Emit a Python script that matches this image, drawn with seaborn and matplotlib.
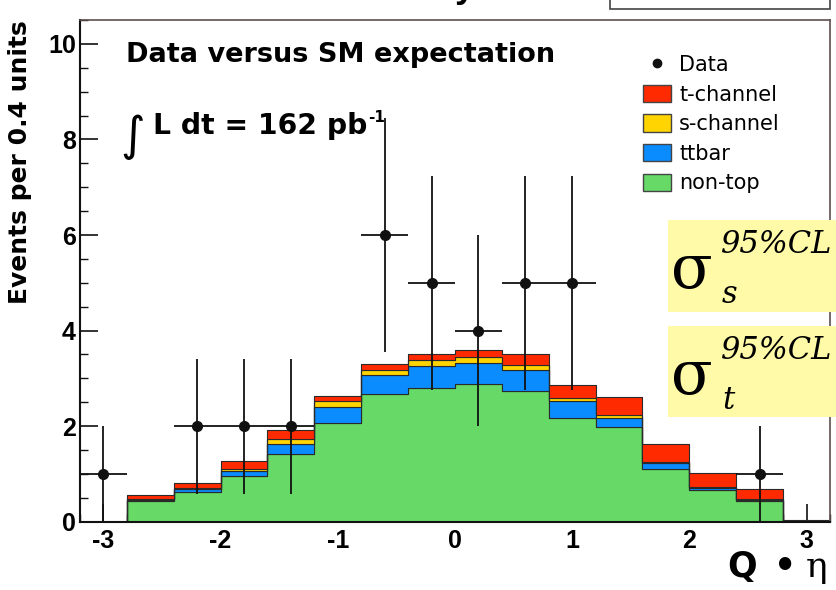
import numpy as np
import pandas as pd
import matplotlib
matplotlib.use("Agg")
import matplotlib.pyplot as plt
from matplotlib.patches import Patch, Rectangle
from matplotlib.lines import Line2D
import seaborn as sns

# ---------------- data ----------------
bin_centers = [-3.0, -2.6, -2.2, -1.8, -1.4, -1.0, -0.6, -0.2,
               0.2, 0.6, 1.0, 1.4, 1.8, 2.2, 2.6, 3.0]
non_top   = [0.00, 0.43, 0.62, 0.95, 1.41, 2.06, 2.68, 2.80,
             2.88, 2.74, 2.17, 1.98, 1.11, 0.66, 0.44, 0.00]
ttbar     = [0.00, 0.03, 0.06, 0.11, 0.22, 0.34, 0.39, 0.46,
             0.45, 0.44, 0.35, 0.19, 0.11, 0.04, 0.02, 0.00]
s_channel = [0.00, 0.02, 0.02, 0.05, 0.11, 0.12, 0.11, 0.12,
             0.12, 0.10, 0.07, 0.07, 0.03, 0.02, 0.01, 0.00]
t_channel = [0.00, 0.08, 0.11, 0.16, 0.17, 0.12, 0.12, 0.13,
             0.15, 0.23, 0.28, 0.38, 0.38, 0.29, 0.21, 0.03]

data_x   = [-3.0, -2.2, -1.8, -1.4, -0.6, -0.2, 0.2, 0.6, 1.0, 2.6]
data_y   = [1, 2, 2, 2, 6, 5, 4, 5, 5, 1]
data_err = [1.0, 1.41, 1.41, 1.41, 2.45, 2.24, 2.0, 2.24, 2.24, 1.0]
data_xerr = 0.2

processes = ["t-channel", "s-channel", "ttbar", "non-top"]
colors = {"t-channel": "#ff2a00", "s-channel": "#ffd400",
          "ttbar": "#0a8cff", "non-top": "#66d966"}
x_ticks = [-3, -2, -1, 0, 1, 2, 3]
y_ticks = [0, 2, 4, 6, 8, 10]

rows = []
for name, vals in zip(processes, [t_channel, s_channel, ttbar, non_top]):
    for c, v in zip(bin_centers, vals):
        rows.append({"x": c, "w": v, "process": name})
df = pd.DataFrame(rows)

# ---------------- figure ----------------
sns.set_theme(style="white")
plt.rcParams["font.family"] = ["Liberation Sans", "DejaVu Sans"]
plt.rcParams["text.color"] = "black"
plt.rcParams["axes.labelcolor"] = "black"
plt.rcParams["xtick.color"] = "black"
plt.rcParams["ytick.color"] = "black"
WIDE = ["DejaVu Sans"]
serif = ["DejaVu Serif", "Liberation Serif"]

W, H = 837, 590
fig = plt.figure(figsize=(W / 100, H / 100), dpi=100)
fig.patch.set_facecolor("white")

def fx(px):
    return px / W

def fy(py):
    return 1 - py / H

ax = fig.add_axes([fx(80), fy(521.7), fx(830) - fx(80), fy(20) - fy(521.7)])
ax.set_facecolor("white")

edges = [round(v, 2) for v in np.linspace(-3.2, 3.2, 17)]
sns.histplot(data=df, x="x", weights="w", hue="process", hue_order=processes,
             multiple="stack", bins=edges, element="step", palette=colors,
             alpha=1, edgecolor="#2a2a2a", linewidth=0.8, legend=False, ax=ax)

ax.errorbar(data_x, data_y, yerr=data_err, xerr=data_xerr, fmt="o",
            color="#111111", ecolor="#111111", elinewidth=1.3, capsize=0,
            markersize=7, zorder=10)

ax.set_xlim(-3.2, 3.2)
ax.set_ylim(0, 10.5)
ax.set_xticks(x_ticks)
ax.set_xticklabels([str(t) for t in x_ticks])
ax.set_yticks(y_ticks)
ax.set_yticklabels([str(t) for t in y_ticks])
ax.set_xticks(np.arange(-3.2, 3.21, 0.2), minor=True)
ax.set_yticks(np.arange(0, 10.51, 0.5), minor=True)
ax.tick_params(axis="both", which="major", direction="in", length=13, width=1.2,
               color="#111111", labelcolor="black", labelsize=18,
               left=True, bottom=True)
ax.tick_params(axis="both", which="minor", direction="in", length=6, width=1.0,
               color="#111111", left=True, bottom=True)
ax.tick_params(axis="x", which="major", pad=5)
ax.tick_params(axis="y", which="major", pad=3)
for lab in ax.get_xticklabels() + ax.get_yticklabels():
    lab.set_fontweight("bold")

ax.set_xlabel("")
ax.set_ylabel("Events per 0.4 units", fontsize=18, fontweight="bold", loc="top",
              family=WIDE, color="black")
ax.yaxis.set_label_coords((32 - 80) / 750, 1.0)

for side in ["left", "bottom"]:
    ax.spines[side].set_color("#111111")
    ax.spines[side].set_linewidth(1.5)
for side in ["top", "right"]:
    ax.spines[side].set_color("#5e4f4f")
    ax.spines[side].set_linewidth(1.2)

# texts inside the frame
fig.text(fx(126), fy(62), "Data versus SM expectation", fontsize=19.5,
         fontweight="bold", va="baseline", ha="left", family=WIDE)
fig.text(fx(120), fy(150), "\u222b", fontsize=34, va="baseline", ha="left",
         family=WIDE)
fig.text(fx(153), fy(134), "L dt = 162 pb", fontsize=20.3, fontweight="bold",
         va="baseline", ha="left", family=WIDE)
fig.text(fx(368), fy(122), "-1", fontsize=11, fontweight="bold",
         va="baseline", ha="left", family=WIDE)

# legend
handles = [Line2D([], [], marker="o", color="#111111", linestyle="none", markersize=6)]
handles += [Patch(facecolor=colors[p], edgecolor="#444444", linewidth=1.0)
            for p in processes]
labels = ["Data"] + processes
leg = fig.legend(handles, labels, loc="upper left",
                 bbox_to_anchor=(fx(643), fy(55)), frameon=False,
                 prop={"family": WIDE, "size": 15},
                 handlelength=1.35, handleheight=0.9, handletextpad=0.38,
                 labelspacing=0.46, borderaxespad=0, borderpad=0)

# yellow boxes on the right
for top, bot in [(220, 312), (326, 417)]:
    fig.patches.append(Rectangle((fx(668), fy(bot)), fx(900) - fx(668),
                                 fy(top) - fy(bot), transform=fig.transFigure,
                                 facecolor="#fffaa8", edgecolor="none", zorder=5))
for dy, sub in [(0, "s"), (106, "t")]:
    fig.text(fx(671), fy(288 + dy), "\u03c3", fontsize=44, family=serif,
             va="baseline", ha="left", zorder=6)
    fig.text(fx(721), fy(253 + dy), "95%CL", fontsize=22, family=serif,
             style="italic", va="baseline", ha="left", zorder=6)
    fig.text(fx(722), fy(303 + dy), sub, fontsize=22, family=serif,
             style="italic", va="baseline", ha="left", zorder=6)

# x axis title at bottom right
fig.text(fx(727), fy(577), "Q", fontsize=25, fontweight="bold",
         va="baseline", ha="left", family=WIDE)
fig.text(fx(774), fy(577), "\u2022", fontsize=25, fontweight="bold",
         va="baseline", ha="left", family=WIDE)
fig.text(fx(806), fy(577), "\u03b7", fontsize=26, family=serif,
         va="baseline", ha="left")

# fragments of the cut-off slide header
fig.patches.append(Rectangle((fx(610), fy(9)), fx(830) - fx(610), fy(-20) - fy(9),
                             transform=fig.transFigure, facecolor="white",
                             edgecolor="#444444", linewidth=1.2, zorder=5))
fig.text(fx(455), fy(-3), "y", fontsize=26, fontweight="bold",
         va="baseline", ha="left")

fig.savefig("out.png", dpi=100, facecolor="white")
